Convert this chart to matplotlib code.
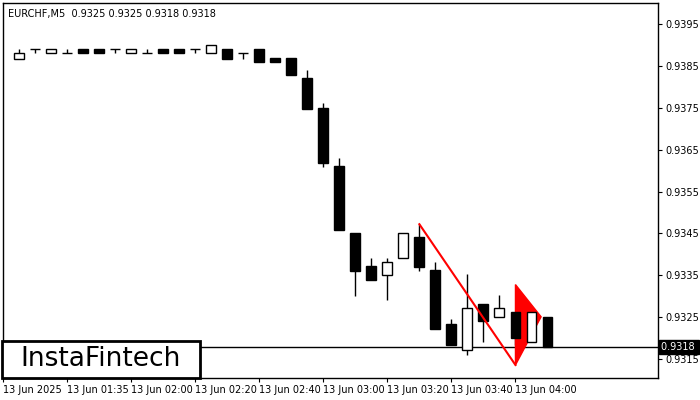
import numpy as np
import matplotlib.pyplot as plt
from matplotlib.patches import Polygon, Rectangle

# candle data, 5 min bars from 13 Jun 01:25
opens = [0.93867, 0.93890, 0.93880, 0.93880, 0.93890, 0.93890, 0.93890, 0.93880, 0.93880, 0.93890,
         0.93890, 0.93890, 0.93880, 0.93890, 0.93880, 0.93890, 0.93869, 0.93869, 0.93821, 0.93749,
         0.93611, 0.93450, 0.93372, 0.93352, 0.93391, 0.93441, 0.93363, 0.93234, 0.93173, 0.93281,
         0.93251, 0.93262, 0.93191, 0.93250]
highs = [0.93890, 0.93890, 0.93890, 0.93890, 0.93890, 0.93890, 0.93890, 0.93890, 0.93890, 0.93890,
         0.93890, 0.93890, 0.93899, 0.93890, 0.93880, 0.93890, 0.93869, 0.93869, 0.93840, 0.93762,
         0.93630, 0.93450, 0.93391, 0.93391, 0.93450, 0.93472, 0.93381, 0.93245, 0.93353, 0.93281,
         0.93303, 0.93262, 0.93271, 0.93250]
lows = [0.93867, 0.93880, 0.93880, 0.93880, 0.93880, 0.93880, 0.93880, 0.93880, 0.93880, 0.93880,
        0.93880, 0.93880, 0.93880, 0.93867, 0.93867, 0.93858, 0.93858, 0.93829, 0.93748, 0.93609,
        0.93458, 0.93300, 0.93339, 0.93291, 0.93391, 0.93361, 0.93221, 0.93183, 0.93159, 0.93191,
        0.93251, 0.93183, 0.93191, 0.93180]
closes = [0.93880, 0.93890, 0.93890, 0.93880, 0.93880, 0.93880, 0.93890, 0.93890, 0.93880, 0.93880,
          0.93880, 0.93890, 0.93899, 0.93867, 0.93880, 0.93858, 0.93858, 0.93829, 0.93748, 0.93619,
          0.93458, 0.93361, 0.93339, 0.93381, 0.93450, 0.93370, 0.93221, 0.93183, 0.93271, 0.93241,
          0.93271, 0.93201, 0.93262, 0.93180]

tick_idx = [-1, 3, 7, 11, 15, 19, 23, 27, 31]
tick_labels = ["13 Jun 2025", "13 Jun 01:35", "13 Jun 02:00", "13 Jun 02:20", "13 Jun 02:40",
               "13 Jun 03:00", "13 Jun 03:20", "13 Jun 03:40", "13 Jun 04:00"]
y_ticks = [0.9315, 0.9325, 0.9335, 0.9345, 0.9355, 0.9365, 0.9375, 0.9385, 0.9395]

# pennant pattern
pole_x = [25, 31]
pole_y = [0.93472, 0.93136]
flag_x = [31, 32.6, 31]
flag_y = [0.93328, 0.93251, 0.93136]
last_price = 0.9318

plt.rcParams["font.family"] = "DejaVu Sans"
fig = plt.figure(figsize=(7, 4), dpi=100)
ax = fig.add_axes([3 / 700, 22 / 400, 655 / 700, 375 / 400])
ax.set_xlim(-1, 39.9)
ax.set_ylim(0.93105, 0.9400)

w = 0.62
for i, (o, h, l, c) in enumerate(zip(opens, highs, lows, closes)):
    lo, hi = min(o, c), max(o, c)
    ax.vlines(i, l, lo, color="black", lw=1, zorder=2)
    ax.vlines(i, hi, h, color="black", lw=1, zorder=2)
    if abs(c - o) < 1e-6:
        ax.hlines(o, i - w / 2, i + w / 2, color="black", lw=1, zorder=3)
    else:
        fc = "black" if c < o else "white"
        ax.add_patch(Rectangle((i - w / 2, lo), w, hi - lo, facecolor=fc,
                               edgecolor="black", lw=1, zorder=3))

ax.plot(pole_x, pole_y, color="red", lw=1.5, zorder=4)
ax.add_patch(Polygon(list(zip(flag_x, flag_y)), closed=True, facecolor="red",
                     edgecolor="red", zorder=2))
ax.axhline(last_price, color="black", lw=1, zorder=1)

ax.yaxis.tick_right()
ax.set_yticks(y_ticks)
ax.set_yticklabels([f"{v:.4f}" for v in y_ticks], fontsize=7)
ax.set_xticks(tick_idx)
ax.set_xticklabels(tick_labels, fontsize=7, ha="left")
ax.tick_params(axis="both", length=3, pad=2)
for s in ax.spines.values():
    s.set_linewidth(1)

ax.text(1.004, last_price, "0.9318 ", transform=ax.get_yaxis_transform(),
        fontsize=7, color="white", va="center", ha="left",
        bbox=dict(facecolor="black", edgecolor="black", pad=1.5))

ax.text(0.008, 0.985, "EURCHF,M5  0.9325 0.9325 0.9318 0.9318", transform=ax.transAxes,
        fontsize=7, va="top", ha="left")

# logo box
fig.add_artist(Rectangle((2 / 700, 22 / 400), 198 / 700, 37 / 400, transform=fig.transFigure,
                         facecolor="white", edgecolor="black", lw=2, zorder=6))
fig.text(101 / 700, 40.5 / 400, "InstaFintech", fontsize=19, ha="center", va="center",
         zorder=7)

fig.savefig("out.png", dpi=100)
